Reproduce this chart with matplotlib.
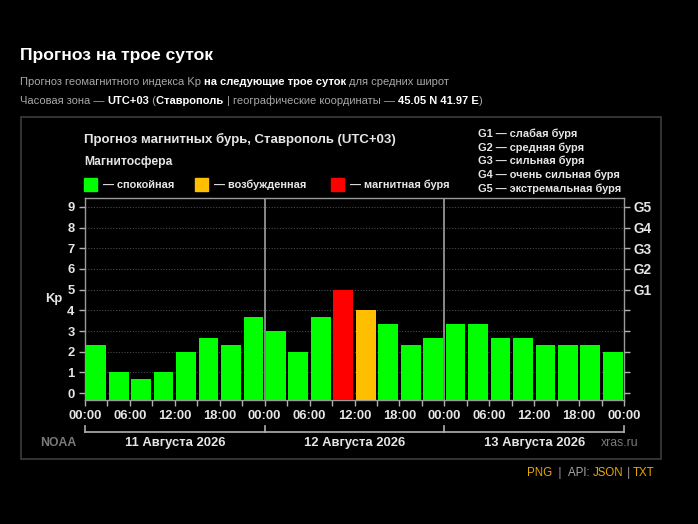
import matplotlib
matplotlib.use("Agg")
import matplotlib.pyplot as plt
import matplotlib.transforms as mtransforms
from matplotlib.patches import Rectangle
import numpy as np

plt.rcParams['font.family'] = ['Liberation Sans', 'DejaVu Sans']

W, H = 698, 524

# Kp forecast, 3-hour intervals, 11-13 Aug 2026
kp_day1 = [2.33, 1.0, 0.67, 1.0, 2.0, 2.67, 2.33, 3.67]
kp_day2 = [3.0, 2.0, 3.67, 5.0, 4.0, 3.33, 2.33, 2.67]
kp_day3 = [3.33, 3.33, 2.67, 2.67, 2.33, 2.33, 2.33, 2.0]
kp = kp_day1 + kp_day2 + kp_day3
days = ['11 Августа 2026', '12 Августа 2026', '13 Августа 2026']
hour_labels = ['00:00', '06:00', '12:00', '18:00'] * 3 + ['00:00']
g_labels = ['G1', 'G2', 'G3', 'G4', 'G5']
g_names = ['слабая буря', 'средняя буря', 'сильная буря',
           'очень сильная буря', 'экстремальная буря']

GREEN, ORANGE, RED = '#00ff00', '#ffbf00', '#ff0000'
GOLD = '#e8a800'
GREY = '#a8a8a8'
TXT = '#e6e6e6'


def fx(x):
    return x / W


def fy(y):
    return 1 - y / H


def kp_color(v):
    if v >= 5:
        return RED
    if v >= 4:
        return ORANGE
    return GREEN


fig = plt.figure(figsize=(W / 100, H / 100), dpi=100, facecolor='black')
renderer = fig.canvas.get_renderer()


def runs(x, y, parts, size):
    # draw a line made of pieces with different colours / weights
    for txt, color, weight in parts:
        t = fig.text(fx(x), fy(y), txt, color=color, fontweight=weight,
                     fontsize=size, va='center')
        x = t.get_window_extent(renderer).x1


# page header
fig.text(fx(20), fy(55.5), 'Прогноз на трое суток', color='white',
         fontsize=12.6, fontweight='bold', va='center')
runs(20, 82, [('Прогноз геомагнитного индекса Kp ', GREY, 'normal'),
              ('на следующие трое суток ', 'white', 'bold'),
              ('для средних широт', GREY, 'normal')], 8.0)
runs(20, 101, [('Часовая зона — ', GREY, 'normal'),
               ('UTC+03', 'white', 'bold'),
               (' (', GREY, 'normal'),
               ('Ставрополь ', 'white', 'bold'),
               ('| географические координаты — ', GREY, 'normal'),
               ('45.05 N 41.97 E', 'white', 'bold'),
               (')', GREY, 'normal')], 8.0)

# chart panel frame
fig.patches.append(Rectangle((fx(21), fy(459)), fx(661) - fx(21), fy(117) - fy(459),
                             transform=fig.transFigure, fill=False,
                             edgecolor='#3c3c3c', linewidth=1.2))

fig.text(fx(84), fy(139), 'Прогноз магнитных бурь, Ставрополь (UTC+03)',
         color=TXT, fontsize=9.5, fontweight='bold', va='center')
fig.text(fx(84), fy(162), 'Магнитосфера', color=TXT, fontsize=8.7,
         fontweight='bold', va='center')
legend_items = [(84, GREEN, '— спокойная'), (195, ORANGE, '— возбужденная'),
                (331, RED, '— магнитная буря')]
for x0, c, lab in legend_items:
    fig.patches.append(Rectangle((fx(x0), fy(191)), 13 / W, 13 / H,
                                 transform=fig.transFigure, color=c))
    fig.text(fx(x0 + 19), fy(184.5), lab, color=TXT, fontsize=7.9,
             fontweight='bold', va='center')
for i, (g, n) in enumerate(zip(g_labels, g_names)):
    fig.text(fx(478), fy(134 + 13.6 * i), g + ' — ' + n, color=TXT,
             fontsize=7.9, fontweight='bold', va='center')

# axes
ax = fig.add_axes([fx(85), fy(400), fx(624) - fx(85), fy(198) - fy(400)])
ax.set_facecolor('black')
ybot = -0.33
hours = np.arange(len(kp)) * 3 + 1.5
vals = np.array(kp)
ax.bar(hours, vals - ybot, bottom=ybot, width=3 * 0.88,
       color=[kp_color(v) for v in kp], zorder=3)
ax.set_xlim(0, 72)
ax.set_ylim(ybot, 9.43)
for yv in range(0, 10):
    ax.axhline(yv, color='#4a4a4a', linestyle=(0, (1, 1.5)), linewidth=0.8, zorder=1)
for xv in (24, 48):
    ax.axvline(xv, color='#a0a0a0', linewidth=1.2, zorder=2)
for s in ax.spines.values():
    s.set_color('#9a9a9a')
    s.set_linewidth(1.0)

ax.set_xticks(np.arange(0, 73, 6))
ax.set_xticklabels(hour_labels)
ax.set_xticks(np.arange(0, 73, 3), minor=True)
ax.set_yticks(range(10))
ax.tick_params(axis='both', which='both', colors='#b0b0b0', labelcolor=TXT,
               labelsize=9.4, length=4, width=1)
ax.tick_params(axis='x', pad=3)
for lab in ax.get_xticklabels() + ax.get_yticklabels():
    lab.set_fontweight('bold')
ax.set_ylabel('Kp', color=TXT, fontsize=9.4, fontweight='bold', rotation=0,
              labelpad=10, va='center')

ax2 = ax.twinx()
ax2.set_ylim(ax.get_ylim())
ax2.set_yticks(range(10))
ax2.set_yticklabels([''] * 5 + g_labels)
ax2.tick_params(axis='y', colors='#b0b0b0', labelcolor=TXT, labelsize=9.8,
                length=4, width=1, pad=3)
for lab in ax2.get_yticklabels():
    lab.set_fontweight('bold')
for s in ax2.spines.values():
    s.set_visible(False)

# day bracket below the axis
tr = mtransforms.blended_transform_factory(ax.transData, ax.transAxes)
yb = -32 / 202
ax.plot([0, 72], [yb, yb], color='#b0b0b0', linewidth=1.2, transform=tr, clip_on=False)
for xv in (0, 24, 48, 72):
    ax.plot([xv, xv], [yb, yb + 6 / 202], color='#b0b0b0', linewidth=1.2,
            transform=tr, clip_on=False)
for i, d in enumerate(days):
    ax.text(12 + 24 * i, -43 / 202, d, transform=tr, color=TXT, fontsize=9.4,
            fontweight='bold', ha='center', va='center')
fig.text(fx(58), fy(443), 'NOAA', color='#7a7a7a', fontsize=8.8,
         fontweight='bold', ha='center', va='center')
fig.text(fx(620), fy(443), 'xras.ru', color='#7a7a7a', fontsize=8.8,
         ha='center', va='center')

# footer links
runs(527, 473, [('PNG', GOLD, 'normal'), ('  |  ', GREY, 'normal'),
                ('API: ', GREY, 'normal'), ('JSON', GOLD, 'normal'),
                (' | ', GREY, 'normal'), ('TXT', GOLD, 'normal')], 8.3)

fig.savefig('out.png', dpi=100, facecolor='black')
